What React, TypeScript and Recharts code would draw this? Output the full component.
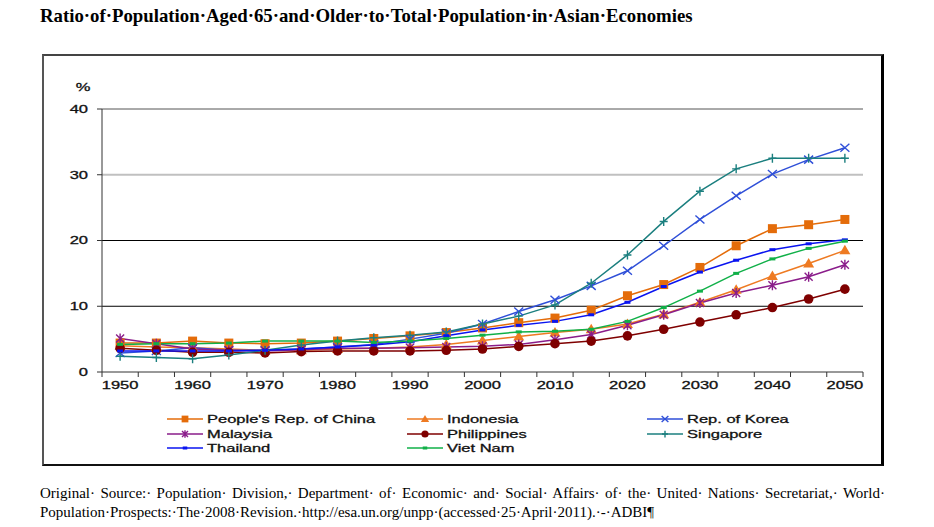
import React from 'react';
import { LineChart, Line, XAxis, YAxis, ReferenceLine } from 'recharts';

// five-year steps, 1950-2050
const years = [1950, 1955, 1960, 1965, 1970, 1975, 1980, 1985, 1990, 1995, 2000, 2005, 2010, 2015, 2020, 2025, 2030, 2035, 2040, 2045, 2050];
const xLabelYears = [1950, 1960, 1970, 1980, 1990, 2000, 2010, 2020, 2030, 2040, 2050];
const yTicks = [0, 10, 20, 30, 40];

const china = [4.4, 4.4, 4.7, 4.4, 4.3, 4.4, 4.7, 5.1, 5.5, 6.0, 6.7, 7.5, 8.2, 9.4, 11.6, 13.3, 15.9, 19.2, 21.8, 22.4, 23.2];
const indonesia = [4.0, 3.8, 3.7, 3.5, 3.3, 3.3, 3.5, 3.6, 3.8, 4.2, 4.8, 5.4, 6.0, 6.5, 7.3, 8.8, 10.6, 12.5, 14.6, 16.5, 18.5];
const korea = [2.9, 3.2, 3.7, 3.3, 3.3, 3.5, 3.8, 4.2, 5.0, 5.9, 7.3, 9.2, 11.0, 13.1, 15.4, 19.2, 23.2, 26.8, 30.1, 32.3, 34.1];
const malaysia = [5.1, 4.3, 3.5, 3.3, 3.2, 3.4, 3.6, 3.6, 3.7, 3.8, 3.9, 4.2, 4.9, 5.7, 7.1, 8.7, 10.5, 12.0, 13.2, 14.5, 16.3];
const philippines = [3.6, 3.3, 3.0, 3.0, 2.9, 3.1, 3.2, 3.2, 3.2, 3.3, 3.5, 3.9, 4.3, 4.7, 5.5, 6.5, 7.6, 8.7, 9.8, 11.1, 12.6];
const singapore = [2.4, 2.2, 2.0, 2.6, 3.3, 4.1, 4.7, 5.2, 5.6, 6.1, 7.3, 8.5, 10.2, 13.5, 17.8, 22.9, 27.5, 30.9, 32.5, 32.5, 32.5];
const thailand = [3.2, 3.2, 3.2, 3.2, 3.3, 3.5, 3.8, 4.1, 4.6, 5.5, 6.4, 7.1, 7.7, 8.7, 10.6, 13.0, 15.2, 17.0, 18.6, 19.5, 20.1];
const vietNam = [4.2, 4.3, 4.3, 4.4, 4.7, 4.7, 4.7, 4.5, 4.7, 5.1, 5.6, 6.1, 6.2, 6.5, 7.7, 9.8, 12.3, 15.0, 17.2, 18.8, 19.9];

const series = [
  { key: 'china', name: "People's Rep. of China", values: china, color: '#E46C0A', marker: 'square' },
  { key: 'indonesia', name: 'Indonesia', values: indonesia, color: '#EE7A22', marker: 'triangle' },
  { key: 'korea', name: 'Rep. of Korea', values: korea, color: '#2F4FD8', marker: 'x' },
  { key: 'malaysia', name: 'Malaysia', values: malaysia, color: '#8A1C8A', marker: 'star' },
  { key: 'philippines', name: 'Philippines', values: philippines, color: '#7F0000', marker: 'circle' },
  { key: 'singapore', name: 'Singapore', values: singapore, color: '#1B7F7F', marker: 'plus' },
  { key: 'thailand', name: 'Thailand', values: thailand, color: '#0A14F0', marker: 'dash' },
  { key: 'vietNam', name: 'Viet Nam', values: vietNam, color: '#10B048', marker: 'dash' },
];

const data = years.map((year, i) => {
  const row: Record<string, number> = { year };
  series.forEach((s) => { row[s.key] = s.values[i]; });
  return row;
});

// tick marks sit between categories, labels on every other category
const xTickMarks = years.map((y) => y - 2.5).concat([years[years.length - 1] + 2.5]);
const xTicks = [...xTickMarks, ...xLabelYears].sort((a, b) => a - b);

const sans = '"Liberation Sans", Arial, sans-serif';
const serif = '"Liberation Serif", "Times New Roman", serif';

function Marker({ type, cx, cy, color, s = 1 }: { type: string; cx: number; cy: number; color: string; s?: number }) {
  switch (type) {
    case 'square':
      return <rect x={cx - 4.5 * s} y={cy - 4.5 * s} width={9 * s} height={9 * s} fill={color} />;
    case 'triangle':
      return <path d={`M${cx},${cy - 5.5 * s}L${cx + 5.5 * s},${cy + 4 * s}L${cx - 5.5 * s},${cy + 4 * s}Z`} fill={color} />;
    case 'x':
      return (
        <path
          d={`M${cx - 4.5 * s},${cy - 4 * s}L${cx + 4.5 * s},${cy + 4 * s}M${cx - 4.5 * s},${cy + 4 * s}L${cx + 4.5 * s},${cy - 4 * s}`}
          stroke={color} strokeWidth={1.4} fill="none"
        />
      );
    case 'star':
      return (
        <path
          d={`M${cx - 4 * s},${cy - 4 * s}L${cx + 4 * s},${cy + 4 * s}M${cx - 4 * s},${cy + 4 * s}L${cx + 4 * s},${cy - 4 * s}M${cx},${cy - 5 * s}L${cx},${cy + 5 * s}`}
          stroke={color} strokeWidth={1.4} fill="none"
        />
      );
    case 'circle':
      return <circle cx={cx} cy={cy} r={4.8 * s} fill={color} />;
    case 'plus':
      return (
        <path
          d={`M${cx},${cy - 4.5 * s}L${cx},${cy + 4.5 * s}M${cx - 4 * s},${cy}L${cx + 4 * s},${cy}`}
          stroke={color} strokeWidth={1.4} fill="none"
        />
      );
    default:
      return <rect x={cx - 3 * s} y={cy - 1.5} width={6 * s} height={3} fill={color} />;
  }
}

// the original artwork is stretched sideways, so text is scaled 1.5x horizontally
const labelText = { fontFamily: sans, fontSize: 11, fill: '#111', stroke: '#111', strokeWidth: 0.3 };

const XTick = (props: any) => {
  const { x, y, payload } = props;
  if (payload.value % 10 === 0) {
    return (
      <text transform={`translate(${x},${y + 13}) scale(1.5,1)`} textAnchor="middle" dominantBaseline="central" {...labelText}>
        {payload.value}
      </text>
    );
  }
  return <line x1={x} y1={y} x2={x} y2={y + 5} stroke="#333" />;
};

const YTick = (props: any) => {
  const { x, y, payload } = props;
  return (
    <text transform={`translate(${x},${y}) scale(1.5,1)`} textAnchor="end" dominantBaseline="central" {...labelText}>
      {payload.value}
    </text>
  );
};

const legendCols = [167, 407, 647];
const legendRows = [419, 434, 448];

function ChartLegend() {
  return (
    <svg width={934} height={527} style={{ position: 'absolute', left: 0, top: 0, pointerEvents: 'none' }}>
      {series.map((s, i) => {
        const x = legendCols[i % 3];
        const y = legendRows[Math.floor(i / 3)];
        return (
          <g key={s.key}>
            <line x1={x} y1={y} x2={x + 36} y2={y} stroke={s.color} strokeWidth={1.5} />
            <Marker type={s.marker} cx={x + 18} cy={y} color={s.color} s={0.75} />
            <text transform={`translate(${x + 40},${y}) scale(1.5,1)`} dominantBaseline="central" {...labelText}>
              {s.name}
            </text>
          </g>
        );
      })}
    </svg>
  );
}

export default function App() {
  return (
    <div style={{ position: 'absolute', left: 0, top: 0, width: 934, height: 527, background: '#fff', overflow: 'hidden' }}>
      <div style={{ position: 'absolute', left: 40, top: 5, fontFamily: serif, fontWeight: 'bold', fontSize: 18.8, whiteSpace: 'nowrap', color: '#000' }}>
        Ratio·of·Population·Aged·65·and·Older·to·Total·Population·in·Asian·Economies
      </div>

      <div style={{
        position: 'absolute', left: 42, top: 54, width: 842, height: 412, boxSizing: 'border-box',
        borderLeft: '2px solid #555', borderTop: '2px solid #444', borderRight: '3px solid #000', borderBottom: '2px solid #111',
      }}>
        <LineChart width={837} height={408} data={data} margin={{ top: 53, right: 18, left: 18, bottom: 62 }}>
          <ReferenceLine y={10} stroke="#000" />
          <ReferenceLine y={20} stroke="#000" />
          <ReferenceLine y={30} stroke="#c0c0c0" strokeWidth={2} />
          <ReferenceLine y={40} stroke="#555" />
          <XAxis dataKey="year" type="number" domain={[1947.5, 2052.5]} ticks={xTicks} interval={0}
            tickLine={false} tickSize={0} tickMargin={0} height={30} axisLine={{ stroke: '#333' }} tick={<XTick />} />
          <YAxis domain={[0, 40]} ticks={yTicks} interval={0} width={40} tickSize={5} tickMargin={9}
            tickLine={{ stroke: '#333' }} axisLine={{ stroke: '#333' }} tick={<YTick />}
            label={{
              content: () => (
                <text transform="translate(39,31) scale(1.5,1)" textAnchor="middle" dominantBaseline="central" {...labelText}>%</text>
              ),
            }} />
          {series.map((s) => (
            <Line key={s.key} dataKey={s.key} name={s.name} stroke={s.color} strokeWidth={1.5}
              isAnimationActive={false}
              dot={(p: any) => (
                <g key={`${s.key}-${p.index}`}>
                  <Marker type={s.marker} cx={p.cx} cy={p.cy} color={s.color} />
                </g>
              )}
            />
          ))}
        </LineChart>
      </div>

      <ChartLegend />

      <div style={{ position: 'absolute', left: 40, top: 484, width: 845, fontFamily: serif, fontSize: 15, color: '#000', lineHeight: '19px' }}>
        <div style={{ textAlign: 'justify', textAlignLast: 'justify', whiteSpace: 'nowrap' }}>
          Original· Source:· Population· Division,· Department· of· Economic· and· Social· Affairs· of· the· United· Nations· Secretariat,· World·
        </div>
        <div style={{ whiteSpace: 'nowrap' }}>
          Population·Prospects:·The·2008·Revision.·http://esa.un.org/unpp·(accessed·25·April·2011).·-·ADBI¶
        </div>
      </div>
    </div>
  );
}
